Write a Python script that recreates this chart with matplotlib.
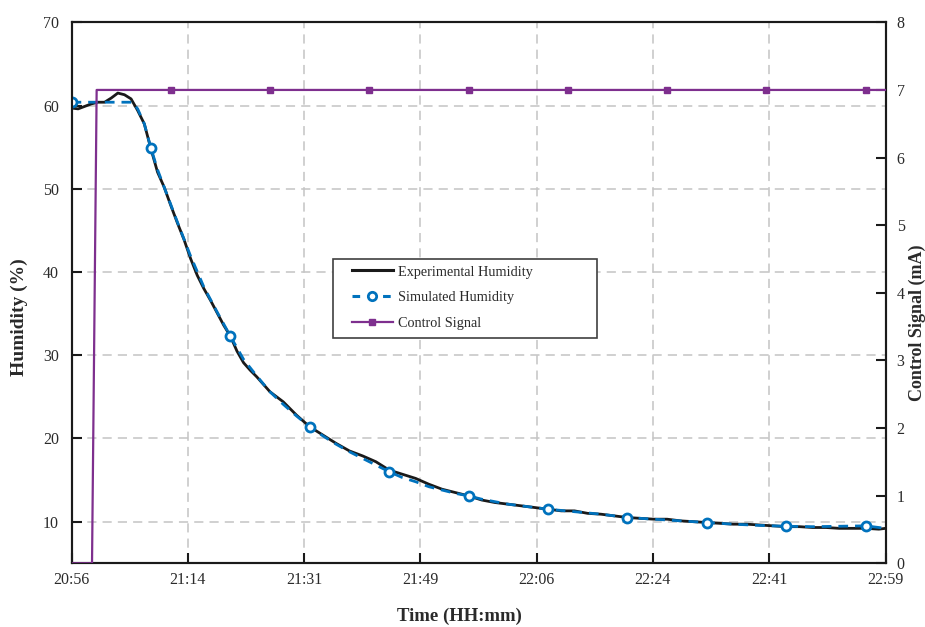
import matplotlib
matplotlib.use("Agg")
import matplotlib.pyplot as plt
from matplotlib.lines import Line2D
from matplotlib.patches import Rectangle

# ---- data (time in minutes after 20:56) ----
exp_t = [0, 1, 2, 3, 4, 5, 6, 7, 8, 9, 10, 11, 12, 13, 14, 15, 16, 17, 18, 19,
         20, 21, 22, 23, 24, 25, 26, 27, 28, 30, 32, 34, 36, 38, 40, 42, 44, 46,
         48, 50, 52, 54, 56, 58, 60, 62, 64, 66, 68, 70, 72, 74, 76, 78, 80, 82,
         84, 86, 88, 90, 92, 94, 96, 98, 100, 102, 104, 106, 108, 110, 112, 114,
         116, 118, 120, 122, 123]
exp_h = [59.7, 59.6, 59.9, 60.2, 60.4, 60.4, 60.9, 61.5, 61.3, 60.8, 59.4, 57.8,
         54.8, 52.0, 50.2, 48.0, 45.9, 43.9, 41.6, 39.6, 38.0, 36.6, 35.1, 33.6,
         32.3, 30.5, 29.1, 28.2, 27.4, 25.6, 24.4, 22.8, 21.4, 20.4, 19.4, 18.5,
         17.9, 17.2, 16.2, 15.7, 15.2, 14.5, 13.9, 13.5, 13.1, 12.6, 12.3, 12.1,
         11.9, 11.7, 11.5, 11.3, 11.3, 11.0, 10.9, 10.7, 10.5, 10.4, 10.3, 10.3,
         10.1, 10.0, 9.9, 9.8, 9.7, 9.7, 9.6, 9.5, 9.4, 9.4, 9.3, 9.3, 9.2, 9.2,
         9.2, 9.1, 9.2]

sim_t = [0, 2, 4, 6, 8, 9.2, 10, 11, 12, 13, 14, 16, 18, 20, 22, 24, 26, 28, 30,
         32, 34, 36, 38, 40, 42, 44, 46, 48, 50, 52, 54, 56, 58, 60, 62, 64, 66,
         68, 70, 72, 76, 80, 84, 88, 92, 96, 100, 104, 108, 112, 116, 120, 122, 123]
sim_h = [60.4, 60.4, 60.4, 60.4, 60.4, 60.4, 59.6, 57.8, 54.9, 52.3, 50.2, 46.0,
         41.9, 38.2, 35.2, 32.3, 29.5, 27.5, 25.6, 24.1, 22.7, 21.4, 20.3, 19.3,
         18.4, 17.6, 16.8, 16.0, 15.3, 14.8, 14.2, 13.8, 13.4, 13.1, 12.7, 12.4,
         12.1, 11.9, 11.7, 11.5, 11.2, 10.9, 10.5, 10.3, 10.1, 9.9, 9.7, 9.55,
         9.45, 9.4, 9.45, 9.5, 9.3, 9.2]
sim_marker_every = 12  # minutes

ctrl_t = [0, 3.1, 3.8, 15, 30, 45, 60, 75, 90, 105, 120, 123]
ctrl_v = [0, 0, 7, 7, 7, 7, 7, 7, 7, 7, 7, 7]
ctrl_marker_every = 15  # minutes

x_total = 123
x_tick_labels = ["20:56", "21:14", "21:31", "21:49", "22:06", "22:24", "22:41", "22:59"]
left_ticks = [10, 20, 30, 40, 50, 60, 70]
right_ticks = [0, 1, 2, 3, 4, 5, 6, 7, 8]
legend_labels = ["Experimental Humidity", "Simulated Humidity", "Control Signal"]

# ---- style ----
plt.rcParams['font.family'] = ['Liberation Serif', 'DejaVu Serif']
BLACK = '#1a1a1a'
BLUE = '#0072BD'
PURPLE = '#7E2F8E'
TXT = '#2a2a2a'

fig = plt.figure(figsize=(9.25, 6.27), dpi=100)
ax1 = fig.add_axes([0.0773, 0.1016, 0.8800, 0.8628])
ax2 = ax1.twinx()

sim_idx = [i for i, t in enumerate(sim_t) if abs(t % sim_marker_every) < 1e-9]
ctrl_idx = [i for i, t in enumerate(ctrl_t) if t > 0 and abs(t % ctrl_marker_every) < 1e-9]

ax1.plot(exp_t, exp_h, color=BLACK, lw=2.0, solid_joinstyle='round', zorder=3)
ax1.plot(sim_t, sim_h, color=BLUE, lw=2.0, linestyle=(0, (3.5, 2.5)),
         marker='o', markersize=6.5, markerfacecolor='white',
         markeredgecolor=BLUE, markeredgewidth=2.0, markevery=sim_idx, zorder=4)
ax2.plot(ctrl_t, ctrl_v, color=PURPLE, lw=1.6, marker='s', markersize=5,
         markevery=ctrl_idx, zorder=5)

ax1.set_xlim(0, x_total)
ax1.set_ylim(5, 70)
ax2.set_ylim(0, 8)

xt = [x_total * i / (len(x_tick_labels) - 1) for i in range(len(x_tick_labels))]
ax1.set_xticks(xt)
ax1.set_xticklabels(x_tick_labels)
ax1.set_yticks(left_ticks)
ax2.set_yticks(right_ticks)

ax1.grid(True, color='#c4c4c4', linestyle=(0, (6, 4)), linewidth=1.1)
ax1.set_axisbelow(True)

for ax in (ax1, ax2):
    for s in ax.spines.values():
        s.set_color(BLACK)
        s.set_linewidth(1.5)

ax1.tick_params(axis='both', direction='in', length=7, width=1.5, colors=BLACK,
                labelsize=11.5, top=False, right=False)
ax1.tick_params(axis='y', pad=9, labelcolor=TXT)
ax1.tick_params(axis='x', pad=6, labelcolor=TXT)
ax2.tick_params(axis='y', direction='in', length=7, width=1.5, colors=BLACK,
                labelsize=11.5, pad=8, labelcolor=TXT)

ax1.set_xlabel("Time (HH:mm)", fontsize=13.5, fontweight='bold', color=TXT)
ax1.xaxis.set_label_coords(0.477, -0.0825)
ax1.set_ylabel("Humidity (%)", fontsize=14, fontweight='bold', color=TXT)
ax1.yaxis.set_label_coords(-0.054, 0.455)
ax2.set_ylabel("Control Signal (mA)", fontsize=13, fontweight='bold', color=TXT)
ax2.yaxis.set_label_coords(1.029, 0.444)

# legend: frame drawn as a rectangle, entries placed inside it
frame = Rectangle((0.321, 0.4165), 0.3246, 0.146, transform=ax2.transAxes,
                  facecolor='white', edgecolor='#404040', lw=1.2, zorder=10)
ax2.add_patch(frame)
handles = [
    Line2D([], [], color=BLACK, lw=2.2),
    Line2D([], [], color=BLUE, lw=2.2, linestyle=(0, (2.5, 2.5)), marker='o',
           markersize=6, markerfacecolor='white', markeredgecolor=BLUE,
           markeredgewidth=2.0),
    Line2D([], [], color=PURPLE, lw=1.6, marker='s', markersize=5),
]
leg = ax2.legend(handles, legend_labels, loc='upper left',
                 bbox_to_anchor=(0.3445, 0.5505), borderaxespad=0, borderpad=0,
                 fontsize=10.3, handlelength=2.85, handletextpad=0.35,
                 labelspacing=0.88, frameon=False)
leg.set_zorder(11)
for t in leg.get_texts():
    t.set_color(TXT)

fig.savefig("out.png", dpi=100)
